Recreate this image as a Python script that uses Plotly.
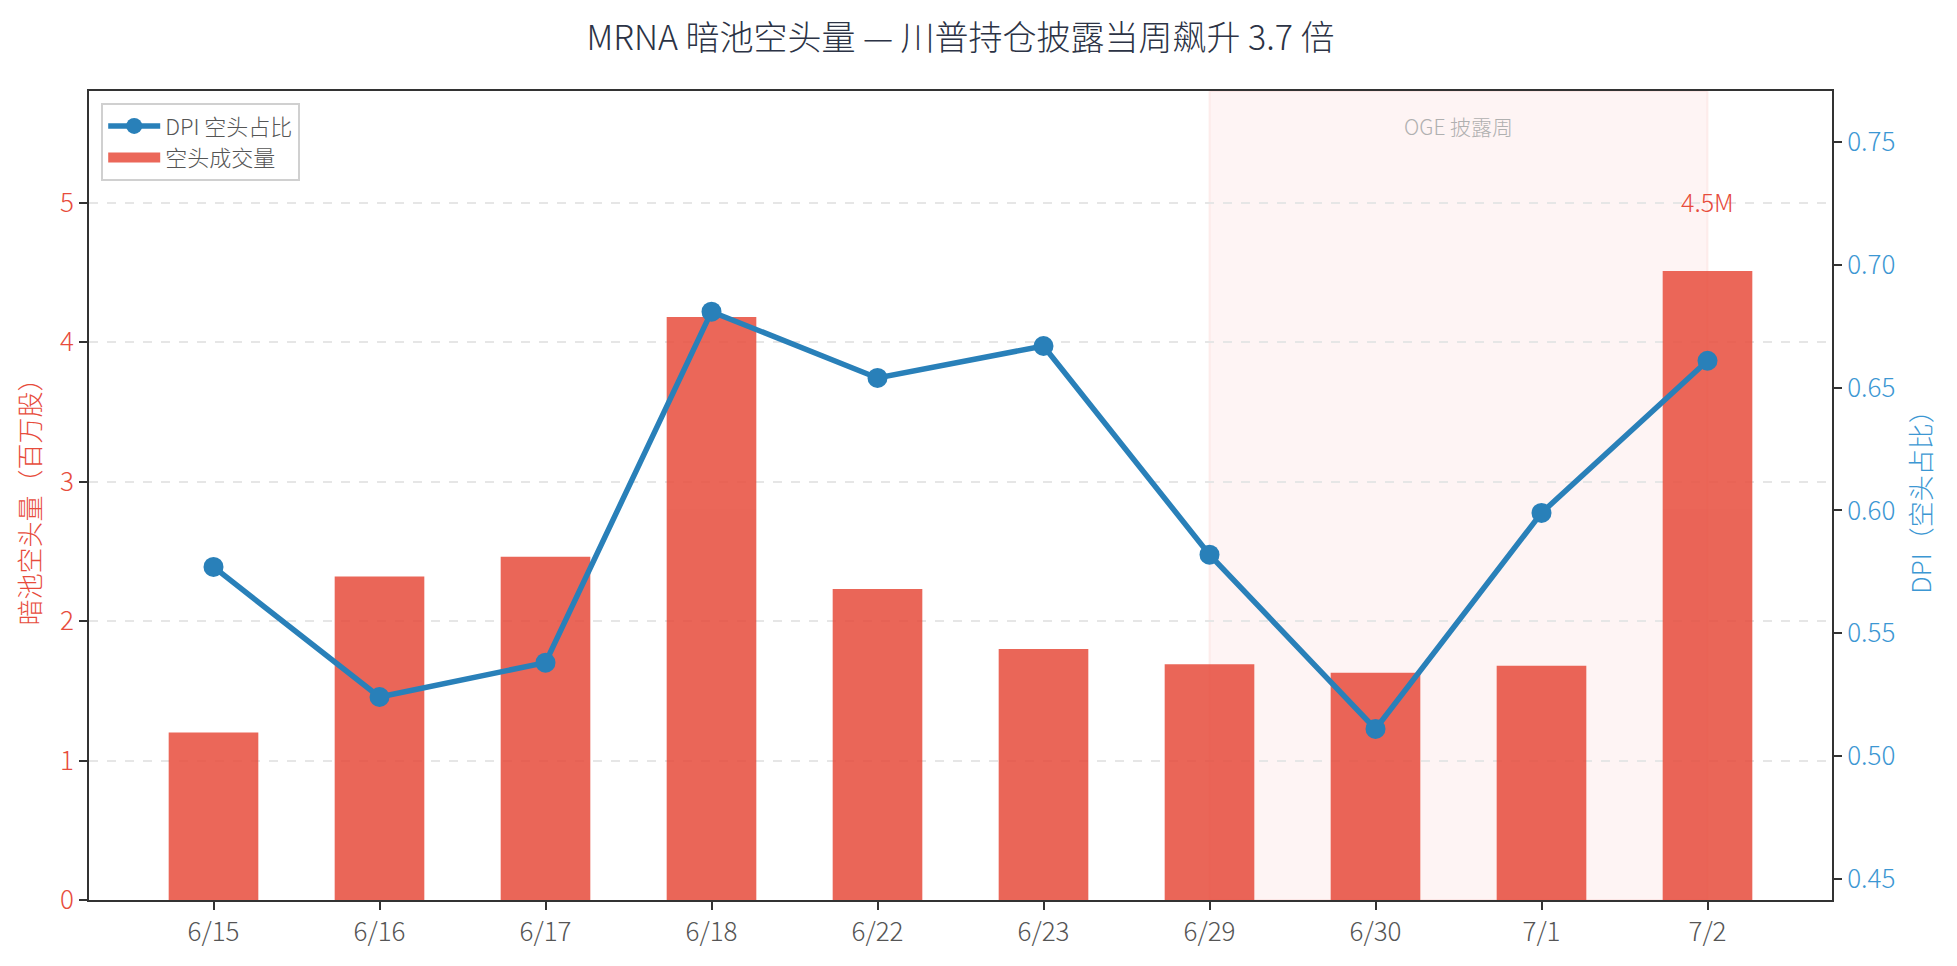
import plotly.graph_objects as go

# -------------------------------------- Data --------------------------------------#
dates = ['6/15', '6/16', '6/17', '6/18', '6/22', '6/23', '6/29', '6/30', '7/1', '7/2']
short_volume = [1.20, 2.32, 2.46, 4.18, 2.23, 1.80, 1.69, 1.63, 1.68, 4.51]  # 百万股
dpi_ratio = [0.577, 0.524, 0.538, 0.681, 0.654, 0.667, 0.582, 0.511, 0.599, 0.661]

oge_start = '6/29'
oge_end = '7/2'
peak_label = '4.5M'

FONT = 'Noto Sans CJK SC Light, Noto Sans CJK SC, sans-serif'
RED = '#e74c3c'
BLUE = '#2980b9'
BLUE_TXT = '#3c97d3'

fig = go.Figure()

fig.add_trace(go.Scatter(
    x=dates, y=dpi_ratio, name='DPI 空头占比', yaxis='y2',
    mode='lines+markers',
    line=dict(color=BLUE, width=5.5),
    marker=dict(color=BLUE, size=20),
))

fig.add_trace(go.Bar(
    x=dates, y=short_volume, name='空头成交量',
    marker=dict(color=RED, line=dict(width=0)),
    opacity=0.85,
    width=0.54,
    showlegend=False,
))

# legend proxy so the bar key is drawn as a wide patch, like the original
fig.add_trace(go.Scatter(
    x=[None], y=[None], name='空头成交量', mode='lines',
    line=dict(color=RED, width=20), opacity=0.85,
))

# OGE 披露周 shading
i0 = dates.index(oge_start)
i1 = dates.index(oge_end)
fig.add_shape(type='rect', xref='x', yref='paper',
              x0=i0, x1=i1, y0=0, y1=1,
              fillcolor='rgba(231,76,60,0.06)',
              line=dict(color='rgba(231,76,60,0.08)', width=2),
              layer='between')

fig.add_annotation(x=(i0 + i1) / 2, y=0.957, xref='x', yref='paper',
                   text='OGE 披露周', showarrow=False, yanchor='middle',
                   font=dict(size=21, color='#b0b0b0', family=FONT, weight=300))

peak_i = short_volume.index(max(short_volume))
fig.add_annotation(x=dates[peak_i], y=short_volume[peak_i], xref='x', yref='y',
                   text=peak_label, showarrow=False, yanchor='bottom', yshift=50,
                   font=dict(size=25, color=RED, family=FONT, weight=300))

fig.update_layout(
    width=1949, height=958,
    margin=dict(l=81, r=125, t=83, b=66),
    paper_bgcolor='white', plot_bgcolor='white',
    font=dict(family=FONT, weight=300, color='#555555'),
    title=dict(text='MRNA 暗池空头量 — 川普持仓披露当周飙升 3.7 倍',
               x=0.5, xref='paper', xanchor='center', y=0.969, yanchor='middle',
               font=dict(size=34, color='#2c3345', family=FONT, weight=300)),
    showlegend=True,
    legend=dict(x=0.007, y=0.985, xanchor='left', yanchor='top',
                bgcolor='white', bordercolor='#d0d0d0', borderwidth=2,
                font=dict(size=22, color='#555555', family=FONT, weight=300),
                traceorder='normal', itemwidth=52, tracegroupgap=6),
    xaxis=dict(
        type='category', range=[-0.75, 9.75],
        showline=True, linecolor='#333333', linewidth=2, mirror=True,
        ticks='outside', ticklen=8, tickwidth=2, tickcolor='#333333',
        tickfont=dict(size=26, color='#555555'),
        showgrid=False, zeroline=False,
    ),
    yaxis=dict(
        range=[0, 5.8], dtick=1,
        title=dict(text='暗池空头量（百万股）', font=dict(size=26, color=RED), standoff=12),
        showline=True, linecolor='#333333', linewidth=2,
        ticks='outside', ticklen=8, tickwidth=2, tickcolor='#333333',
        tickfont=dict(size=26, color=RED),
        showgrid=True, gridcolor='#e6e6e6', griddash='dash', gridwidth=1.5,
        zeroline=False,
    ),
    yaxis2=dict(
        overlaying='y', side='right', range=[0.4413, 0.7709],
        tickvals=[0.45, 0.50, 0.55, 0.60, 0.65, 0.70, 0.75],
        tickformat='.2f',
        title=dict(text='DPI（空头占比）', font=dict(size=26, color=BLUE_TXT), standoff=18),
        showline=True, linecolor='#333333', linewidth=2,
        ticks='outside', ticklen=8, tickwidth=2, tickcolor='#333333',
        tickfont=dict(size=26, color=BLUE_TXT),
        showgrid=False, zeroline=False,
    ),
)

fig.write_html('out.html')
